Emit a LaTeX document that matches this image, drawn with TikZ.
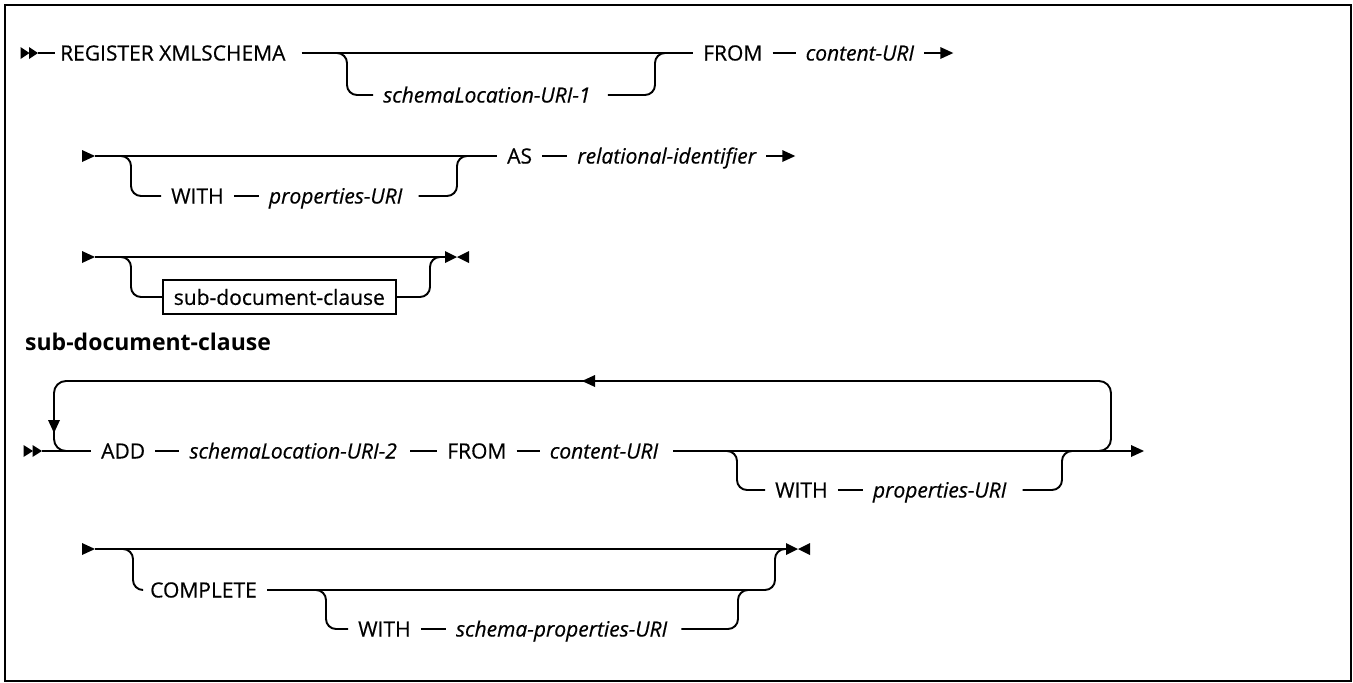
\documentclass[tikz,border=0pt]{standalone}
\usepackage{fontspec}
\setmainfont{Open Sans}
\newfontfamily\kwfamily{Open Sans}[FakeBold=0.5]
\usetikzlibrary{calc}
\tikzset{
  rr/.style={line width=1.9pt},
  br/.style={rr, rounded corners=10pt},
  kw/.style={inner sep=0pt, anchor=base west, font=\kwfamily\fontsize{21}{24}\selectfont},
  var/.style={kw, font=\kwfamily\fontsize{21}{24}\selectfont\itshape},
  hd/.style={inner sep=0pt, anchor=base west, font=\fontsize{23}{27}\selectfont\bfseries},
  boxn/.style={draw, line width=1.6pt, inner xsep=11pt, inner ysep=0pt, minimum height=34pt, anchor=west, font=\kwfamily\fontsize{21}{24}\selectfont},
}
\newcommand\rtri[2]{\fill ($(#1)+(-#2,-6)$) -- (#1) -- ($(#1)+(-#2,6)$) -- cycle;}
\newcommand\ltri[2]{\fill ($(#1)+(#2,-6)$) -- (#1) -- ($(#1)+(#2,6)$) -- cycle;}
\newcommand\dtri[2]{\fill ($(#1)+(-6,-#2)$) -- (#1) -- ($(#1)+(6,-#2)$) -- cycle;}
\newcommand\dashto[3]{\draw[rr] ($(#1.east|-#3)+(10,0)$) -- ($(#2.west|-#3)+(-10,0)$);}
\begin{document}
\begin{tikzpicture}[x=1pt,y=-1pt]
\useasboundingbox (0,0) rectangle (1353,683);
\draw[line width=2pt] (5,5) rectangle (1351,681);
% rows
\coordinate (R1) at (0,53);  \coordinate (B1) at (0,95);
\coordinate (R2) at (0,156); \coordinate (B2) at (0,196);
\coordinate (R3) at (0,257); \coordinate (B3) at (0,297);
\coordinate (T4) at (0,381); \coordinate (R4) at (0,451); \coordinate (B4) at (0,490);
\coordinate (R5) at (0,549); \coordinate (M5) at (0,590); \coordinate (B5) at (0,629);

% ---------- row 1
\rtri{29.5,53}{9}\rtri{38,53}{9}
\node[kw] (reg) at (60,60.5) {REGISTER XMLSCHEMA};
\draw[rr] (38,53) -- ($(reg.west|-R1)+(-5,0)$);
\node[var] (sl1) at (383,102.5) {schemaLocation-URI-1};
\node[kw] (from1) at (703,60.5) {FROM};
\node[var] (cu1) at ($(from1.base east)+(43,0)$) {content-URI};
\draw[rr] ($(reg.east|-R1)+(16,0)$) -- ($(from1.west|-R1)+(-10,0)$);
\draw[br] (335,53) -- (347,53) -- (347,95) -- ($(sl1.west|-B1)+(-10,0)$);
\draw[br] ($(sl1.east|-B1)+(17,0)$) -- (655,95) -- (655,53) -- (667,53);
\dashto{from1}{cu1}{R1}
\coordinate (e1) at ($(cu1.east|-R1)+(39,0)$);
\draw[rr] ($(cu1.east|-R1)+(10,0)$) -- ($(e1)+(-11,0)$);
\rtri{e1}{13}

% ---------- row 2
\rtri{95,156}{13}
\node[kw] (w2) at (171,203.5) {WITH};
\node[var] (p2) at ($(w2.base east)+(45,0)$) {properties-URI};
\node[kw] (as2) at (507,163.5) {AS};
\node[var] (ri2) at ($(as2.base east)+(45,0)$) {relational-identifier};
\draw[rr] (95,156) -- ($(as2.west|-R2)+(-10,0)$);
\draw[br] (121,156) -- (131,156) -- (131,196) -- ($(w2.west|-B2)+(-10,0)$);
\dashto{w2}{p2}{B2}
\draw[br] ($(p2.east|-B2)+(16,0)$) -- (457,196) -- (457,156) -- (467,156);
\dashto{as2}{ri2}{R2}
\coordinate (e2) at ($(ri2.east|-R2)+(39,0)$);
\draw[rr] ($(ri2.east|-R2)+(10,0)$) -- ($(e2)+(-11,0)$);
\rtri{e2}{13}

% ---------- row 3
\rtri{95,257}{13}
\draw[rr] (95,257) -- (445,257);
\node[boxn] (box) at (162,297) {sub-document-clause};
\draw[br] (121,257) -- (131,257) -- (131,297) -- (box.west);
\draw[br] (box.east) -- (430,297) -- (430,257) -- (440,257);
\rtri{457,257}{12}\ltri{457,257}{12}

% ---------- heading
\node[hd] (hd) at (25,350) {sub-document-clause};

% ---------- row 4
\rtri{33,451}{9.5}\rtri{42,451}{9.5}
\node[kw] (add) at (101,458.5) {ADD};
\node[var] (sl2) at ($(add.base east)+(44,0)$) {schemaLocation-URI-2};
\node[kw] (from4) at ($(sl2.base east)+(50,0)$) {FROM};
\node[var] (cu4) at ($(from4.base east)+(43,0)$) {content-URI};
\draw[rr] (42,451) -- ($(add.west|-R4)+(-10,0)$);
\draw[br, rounded corners=12pt] (1090,451) -- (1111,451) -- (1111,381) -- (54,381) -- (54,451) -- (80,451);
\ltri{582,381}{13}
\dtri{54,433}{13}
\dashto{add}{sl2}{R4}
\draw[rr] ($(sl2.east|-R4)+(13,0)$) -- ($(from4.west|-R4)+(-10,0)$);
\dashto{from4}{cu4}{R4}
\draw[rr] ($(cu4.east|-R4)+(15,0)$) -- (1132,451);
\rtri{1144,451}{13}
\node[kw] (w4) at (775,497.5) {WITH};
\node[var] (p4) at ($(w4.base east)+(45,0)$) {properties-URI};
\draw[br] (727,451) -- (737,451) -- (737,490) -- ($(w4.west|-B4)+(-10,0)$);
\dashto{w4}{p4}{B4}
\draw[br] ($(p4.east|-B4)+(16,0)$) -- (1062,490) -- (1062,451) -- (1072,451);

% ---------- row 5
\rtri{95,549}{13}
\draw[rr] (95,549) -- (787,549);
\rtri{798,549}{12}\ltri{798,549}{12}
\node[kw] (cp5) at (150,597.5) {COMPLETE};
\draw[br] (123,549) -- (133,549) -- (133,590) -- ($(cp5.west|-M5)+(-8,0)$);
\draw[br] ($(cp5.east|-M5)+(10,0)$) -- (775,590) -- (775,549) -- (785,549);
\node[kw] (w5) at (358,636.5) {WITH};
\node[var] (spu) at ($(w5.base east)+(45,0)$) {schema-properties-URI};
\draw[br] (316,590) -- (326,590) -- (326,629) -- ($(w5.west|-B5)+(-10,0)$);
\dashto{w5}{spu}{B5}
\draw[br] ($(spu.east|-B5)+(14,0)$) -- (738,629) -- (738,590) -- (748,590);
\end{tikzpicture}
\end{document}
